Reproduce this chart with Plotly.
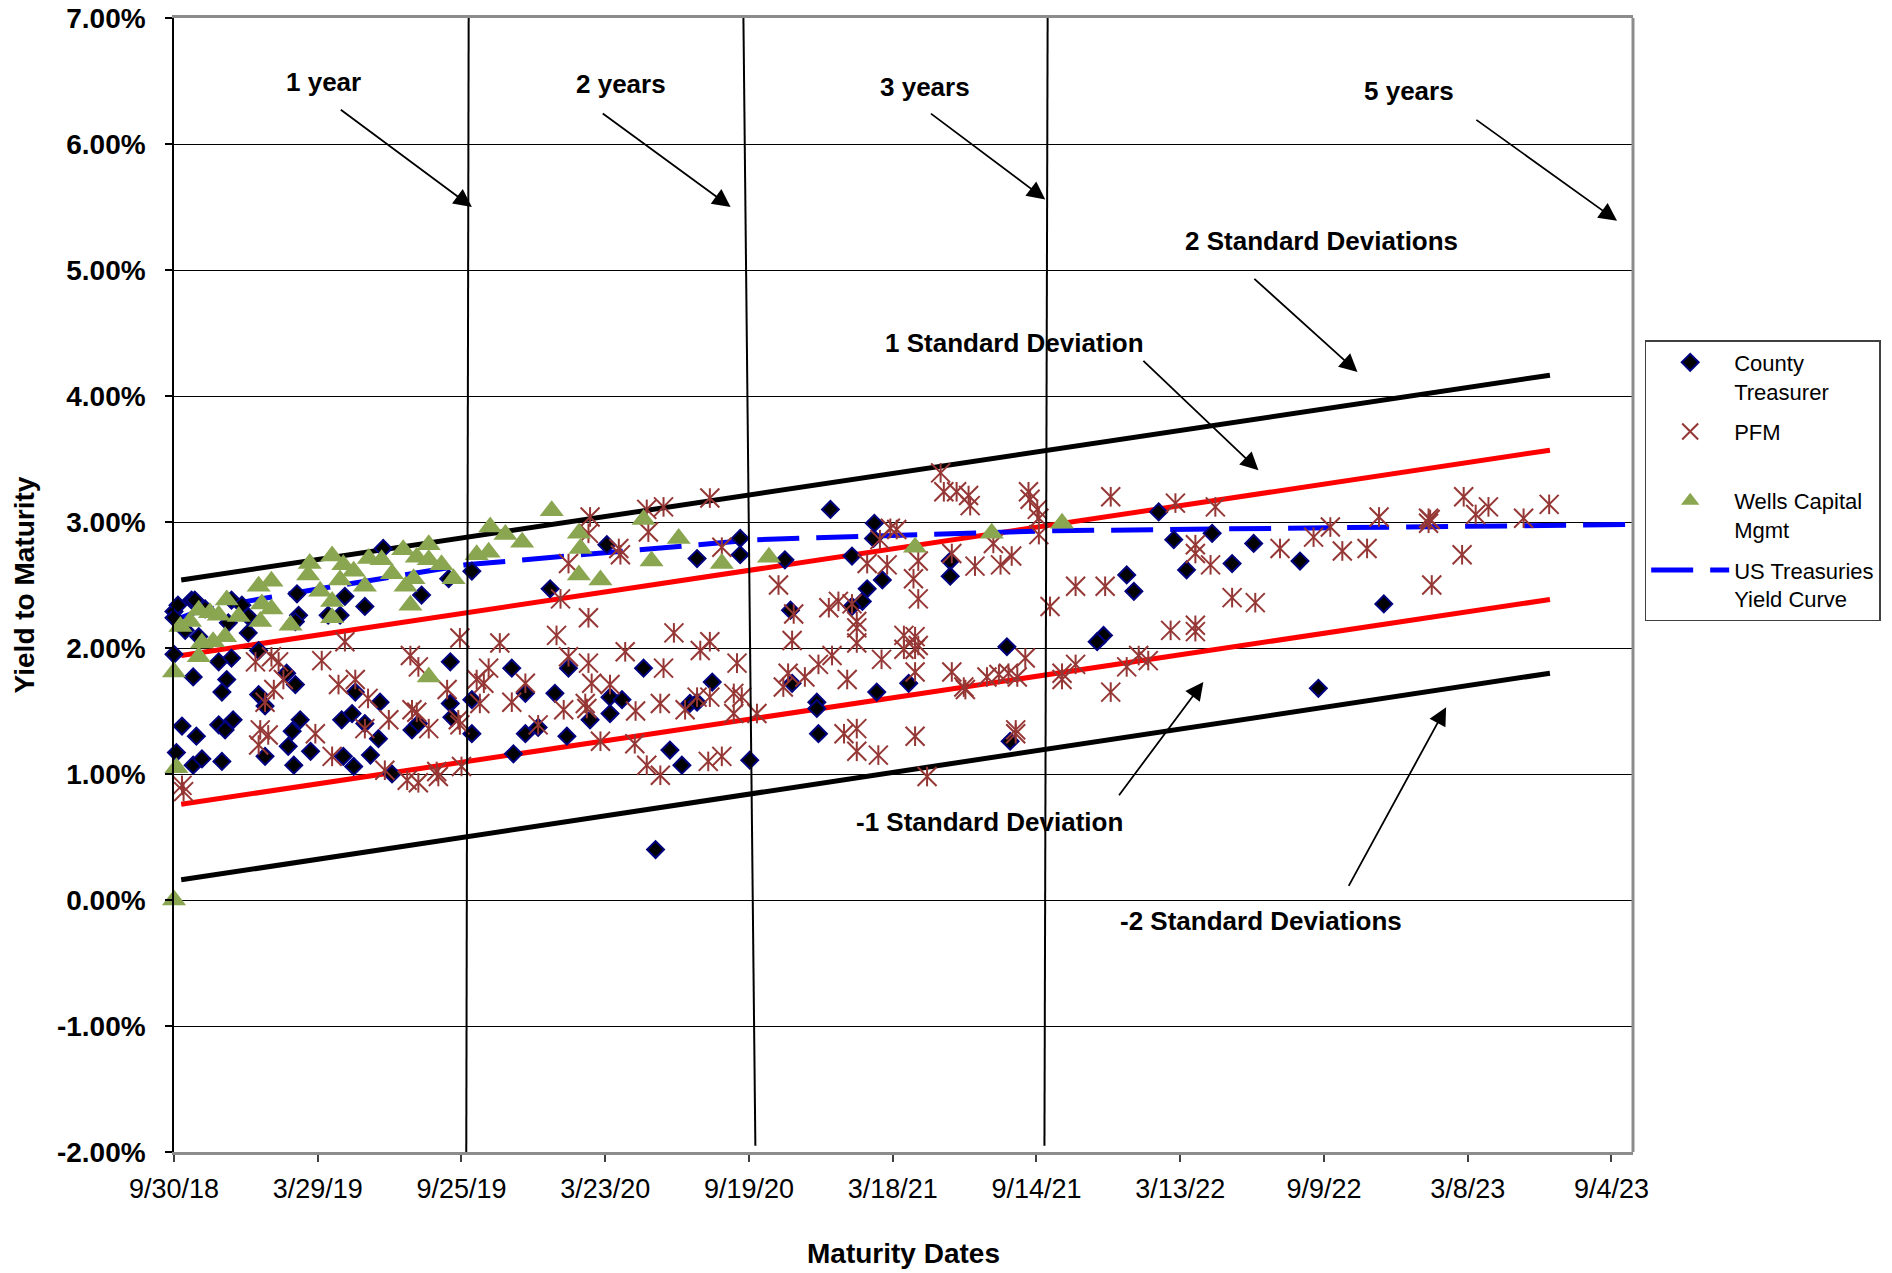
import pandas as pd
import plotly.graph_objects as go

# ---------------- data ----------------
report_date = "2018-09-30"

# days to maturity (from 9/30/18) and yield to maturity (%)
county_days = [0, 5, 22, 0, 14, 0, 24, 66, 60, 72, 56, 10, 28, 56, 64, 74, 3, 24, 35, 60,
               106, 114, 141, 152, 158, 148, 143, 114, 150, 171, 210, 223, 239, 256, 212, 225, 246, 258, 227, 273,
               298, 306, 346, 346, 348, 154, 156, 152, 214, 208, 239, 193, 262, 310, 344, 26, 39, 72, 85, 93,
               68, 31, 93, 106,
               373, 373, 373, 471, 542, 655, 709, 709, 765, 772, 423, 440, 477, 494, 440, 456, 425, 492, 521, 546,
               561, 546, 588, 621, 636, 646, 655, 674, 721, 603, 774,
               822, 877, 876, 849, 887, 868, 862, 849, 972, 972, 1043, 1164, 1156, 805, 805, 807, 880, 920, 1047,
               1233, 1252, 1300, 1352, 1325, 1410, 1268, 1193, 1202, 1433, 1515]
county_yield = [2.29, 2.34, 2.38, 2.24, 2.14, 1.95, 1.77, 1.75, 1.65, 1.92, 1.89, 1.38, 1.30, 1.39, 1.35, 1.43, 1.17, 1.07, 1.12, 1.10,
                1.63, 1.54, 1.80, 1.71, 1.43, 1.34, 1.22, 1.14, 1.07, 1.18, 1.43, 1.48, 1.40, 1.28, 1.14, 1.06, 1.15, 1.57, 1.65, 1.00,
                1.35, 1.40, 1.89, 1.56, 1.45, 2.43, 2.26, 2.21, 2.41, 2.26, 2.33, 2.26, 2.79, 2.42, 2.55, 2.38, 2.31, 2.38, 2.34, 2.25,
                2.20, 2.09, 2.12, 1.98,
                2.61, 1.59, 1.32, 2.47, 2.82, 2.71, 2.87, 2.74, 2.70, 2.30, 1.84, 1.64, 1.64, 1.84, 1.32, 1.37, 1.16, 1.30, 1.43, 1.61,
                1.59, 1.48, 1.84, 1.19, 1.07, 1.56, 1.57, 1.73, 1.11, 0.40, 1.72,
                3.10, 2.99, 2.87, 2.73, 2.54, 2.47, 2.37, 2.33, 2.69, 2.57, 2.01, 2.10, 2.05, 1.57, 1.52, 1.32, 1.65, 1.72, 1.26,
                3.08, 2.86, 2.91, 2.83, 2.67, 2.69, 2.62, 2.58, 2.45, 1.68, 2.35]

pfm_days = [10, 12, 102, 122, 131, 185, 214, 137, 125, 114, 108, 118, 106, 177, 198, 206, 227, 243, 269, 239,
            264, 292, 306, 329, 331, 360, 296, 306, 319, 342, 356, 358, 298, 304, 358,
            521, 519, 592, 594, 613, 671, 494, 557, 559, 686, 757, 484, 519, 479, 408, 626, 659, 671, 774, 776,
            565, 494, 519, 613, 705, 394, 379, 388, 440, 523, 546, 423, 383, 488, 515, 517, 578, 609, 640, 655,
            671, 701, 711, 701, 730, 763, 769, 456, 534, 577, 592, 609, 669, 686,
            960, 964, 980, 995, 997, 1070, 1072, 1081, 1083, 1083, 1173, 897, 905, 884, 868, 893, 932, 926, 932, 974,
            1003, 1035, 1049, 1026, 820, 832, 849, 855, 855, 1097, 1129, 1166, 855, 914, 928, 932, 914, 928, 824, 886,
            807, 790, 843, 928, 974, 989, 991, 1018, 1033, 1045, 1056, 1066, 1112, 1112, 1129, 1173, 839, 855, 855, 882,
            928, 1054, 1054, 943,
            1254, 1304, 1509, 1448, 1427, 1279, 1279, 1298, 1385, 1463, 1494, 1325, 1354, 1248, 1279, 1279, 1208, 1193, 1220,
            1571, 1573, 1571, 1615, 1630, 1646, 1690, 1722, 1613, 1575]
pfm_yield = [0.91, 0.86, 1.89, 1.93, 1.89, 1.90, 2.05, 1.75, 1.67, 1.57, 1.35, 1.31, 1.23, 1.32, 1.14, 1.71, 1.75, 1.60, 1.43, 1.36,
             1.03, 0.95, 0.93, 1.02, 0.98, 1.06, 1.94, 1.85, 1.36, 1.67, 1.43, 1.39, 1.51, 1.49, 2.08,
             3.04, 2.91, 3.10, 2.92, 3.12, 3.19, 2.67, 2.79, 2.74, 2.80, 2.50, 2.39, 2.24, 2.10, 2.04, 2.12, 1.98, 2.05, 2.06, 2.27,
             1.97, 1.93, 1.88, 1.84, 1.88, 1.84, 1.75, 1.72, 1.72, 1.72, 1.71, 1.57, 1.56, 1.51, 1.56, 1.52, 1.50, 1.56, 1.51, 1.61,
             1.61, 1.64, 1.61, 1.48, 1.48, 1.69, 1.80, 1.39, 1.26, 1.24, 1.07, 0.99, 1.10, 1.14,
             3.39, 3.24, 3.24, 3.21, 3.13, 3.24, 3.18, 3.10, 3.03, 2.90, 3.20, 2.95, 2.94, 2.86, 2.67, 2.66, 2.69, 2.55, 2.39, 2.75,
             2.65, 2.66, 2.73, 2.83, 2.32, 2.37, 2.35, 2.21, 2.16, 2.33, 2.49, 2.49, 2.04, 2.10, 2.09, 2.02, 1.99, 1.99, 1.94, 1.91,
             1.87, 1.77, 1.75, 1.81, 1.81, 1.69, 1.67, 1.77, 1.79, 1.80, 1.77, 1.92, 1.80, 1.75, 1.87, 1.65, 1.32, 1.36, 1.18, 1.15,
             1.30, 1.35, 1.32, 0.98,
             3.15, 3.12, 3.04, 2.96, 2.88, 2.82, 2.75, 2.66, 2.79, 2.77, 2.79, 2.40, 2.36, 2.14, 2.18, 2.13, 1.94, 1.85, 1.90,
             3.03, 3.02, 2.99, 3.20, 3.06, 3.12, 3.03, 3.14, 2.74, 2.50]

wells_days = [0, 0, 3, 8, 20, 31, 45, 56, 66, 81, 64, 49, 35, 31, 106, 122, 110, 122, 108, 146,
              170, 168, 183, 198, 198, 198, 212, 225, 208, 239, 244, 260, 273, 287, 304, 319, 319, 290, 300, 296,
              335, 350, 319, 396, 415, 436, 379, 394, 473, 507, 509, 507, 534, 588, 598, 632, 686, 745,
              928, 1024, 1112]
wells_yield = [0.00, 1.81, 1.05, 2.17, 2.21, 2.30, 2.28, 2.26, 2.38, 2.25, 2.09, 2.05, 2.04, 1.93, 2.49, 2.53, 2.35, 2.31, 2.21, 2.18,
               2.67, 2.58, 2.45, 2.37, 2.24, 2.73, 2.66, 2.61, 2.54, 2.49, 2.71, 2.70, 2.59, 2.78, 2.72, 2.82, 2.70, 2.49, 2.55, 2.34,
               2.66, 2.55, 1.77, 2.96, 2.90, 2.84, 2.74, 2.76, 3.09, 2.91, 2.79, 2.58, 2.54, 3.02, 2.69, 2.87, 2.67, 2.72,
               2.80, 2.91, 2.99]

treasury_days = [0, 30, 91, 182, 365, 730, 1095, 1827]
treasury_yield = [2.22, 2.29, 2.37, 2.47, 2.66, 2.86, 2.93, 2.98]

# standard deviation bands (start / end)
band_days = [9, 1723]
band_plus2 = [2.54, 4.165]
band_plus1 = [1.94, 3.57]
band_minus1 = [0.76, 2.385]
band_minus2 = [0.16, 1.80]

x_tick_labels = ["9/30/18", "3/29/19", "9/25/19", "3/23/20", "9/19/20", "3/18/21",
                 "9/14/21", "3/13/22", "9/9/22", "3/8/23", "9/4/23"]
y_tick_values = [-2, -1, 0, 1, 2, 3, 4, 5, 6, 7]
y_tick_labels = ["-2.00%", "-1.00%", "0.00%", "1.00%", "2.00%", "3.00%", "4.00%", "5.00%", "6.00%", "7.00%"]

# ---------------- helpers ----------------
base = pd.Timestamp(report_date)


def to_dates(days):
    return [base + pd.Timedelta(days=float(d)) for d in days]


FONT = "Liberation Sans, Arial, sans-serif"
PFM_COLOR = "#953735"

fig = go.Figure()

# SD bands
for vals, col in [(band_plus2, "black"), (band_plus1, "#FF0000"),
                  (band_minus1, "#FF0000"), (band_minus2, "black")]:
    fig.add_trace(go.Scatter(x=to_dates(band_days), y=vals, mode="lines",
                             line=dict(color=col, width=5), showlegend=False, hoverinfo="skip"))

# Treasury curve
fig.add_trace(go.Scatter(x=to_dates(treasury_days), y=treasury_yield, mode="lines",
                         name="US Treasuries<br>Yield Curve", legendgroup="ust", legendrank=4,
                         line=dict(color="#0000FF", width=5, dash="42px,17px")))

# County Treasurer
fig.add_trace(go.Scatter(x=to_dates(county_days), y=county_yield, mode="markers",
                         name="County<br>Treasurer", legendgroup="county", legendrank=1,
                         cliponaxis=False,
                         marker=dict(symbol="diamond", size=13, color="black",
                                     line=dict(color="#000080", width=2))))

# PFM (asterisk = x + vertical bar)
fig.add_trace(go.Scatter(x=to_dates(pfm_days), y=pfm_yield, mode="markers",
                         name="PFM<br>\u00a0", legendgroup="pfm", legendrank=2,
                         marker=dict(symbol="x-thin-open", size=19, color=PFM_COLOR,
                                     line=dict(color=PFM_COLOR, width=2))))
fig.add_trace(go.Scatter(x=to_dates(pfm_days), y=pfm_yield, mode="markers",
                         showlegend=False, legendgroup="pfm",
                         marker=dict(symbol="line-ns-open", size=14, color=PFM_COLOR,
                                     line=dict(color=PFM_COLOR, width=2))))

# Wells Capital Mgmt
fig.add_trace(go.Scatter(x=to_dates(wells_days), y=wells_yield, mode="markers",
                         name="Wells Capital<br>Mgmt", legendgroup="wells", legendrank=3,
                         cliponaxis=False,
                         marker=dict(symbol="triangle-up", size=21, color="#8BA651",
                                     line=dict(width=0))))

# year marker lines (slightly slanted, as drawn)
year_lines = [("2019-10-04", "2019-10-01", -2.0),
              ("2020-09-12", "2020-09-27", -1.95),
              ("2021-09-28", "2021-09-24", -1.95)]
for top, bottom, ybot in year_lines:
    fig.add_shape(type="line", xref="x", yref="y", x0=top, y0=7.02, x1=bottom, y1=ybot,
                  line=dict(color="black", width=2))

# right border of plot area
fig.add_shape(type="line", xref="paper", yref="paper", x0=1, y0=0, x1=1, y1=1,
              line=dict(color="#8C8C8C", width=3))

# annotations: labels
labels = [("1 year", 187, 6.49), ("2 years", 560, 6.48), ("3 years", 941, 6.45),
          ("5 years", 1547, 6.42), ("2 Standard Deviations", 1437, 5.23),
          ("1 Standard Deviation", 1053, 4.42), ("-1 Standard Deviation", 1021, 0.62),
          ("-2 Standard Deviations", 1361, -0.17)]
for txt, d, yv in labels:
    fig.add_annotation(x=base + pd.Timedelta(days=d), y=yv, text="<b>%s</b>" % txt,
                       showarrow=False, font=dict(family=FONT, size=26, color="black"))

# arrows: (tail_days, tail_y, head_days, head_y)
arrows = [(207, 6.28, 373, 5.50), (535, 6.25, 697, 5.50), (946, 6.25, 1091, 5.56),
          (1629, 6.20, 1807, 5.39), (1351, 4.94, 1482, 4.19), (1212, 4.29, 1358, 3.41),
          (1182, 0.82, 1289, 1.73), (1470, 0.10, 1593, 1.53)]
for td, ty, hd, hy in arrows:
    fig.add_annotation(x=base + pd.Timedelta(days=hd), y=hy,
                       ax=base + pd.Timedelta(days=td), ay=ty, axref="x", ayref="y",
                       text="", showarrow=True, arrowhead=2, arrowsize=2,
                       arrowwidth=1.8, arrowcolor="black", standoff=0)

tickvals_x = pd.to_datetime(x_tick_labels, format="%m/%d/%y")

fig.update_layout(
    width=1892, height=1273,
    margin=dict(l=174, r=259, t=18, b=121, autoexpand=False),
    paper_bgcolor="white", plot_bgcolor="white",
    font=dict(family=FONT, color="black"),
    legend=dict(x=1.008, y=0.716, xanchor="left", yanchor="top",
                bordercolor="#404040", borderwidth=1.5, bgcolor="white",
                font=dict(family=FONT, size=22, color="black"),
                itemwidth=78, valign="top", tracegroupgap=9,
                traceorder="grouped"),
    xaxis=dict(type="date", range=[base, base + pd.Timedelta(days=1827)],
               automargin=False,
               tickvals=tickvals_x, ticktext=x_tick_labels,
               tickfont=dict(family=FONT, size=27, color="black"),
               ticks="outside", ticklen=7, tickcolor="#404040", tickwidth=1.5,
               ticklabelstandoff=4,
               showgrid=False, zeroline=False,
               showline=True, linecolor="#8C8C8C", linewidth=3, mirror=True,
               title=dict(text="<b>Maturity Dates</b>", standoff=40,
                          font=dict(family=FONT, size=28, color="black"))),
    yaxis=dict(range=[-2, 7], tickvals=y_tick_values, ticktext=y_tick_labels,
               automargin=False,
               tickfont=dict(family=FONT, size=28, color="black", weight="bold"),
               ticks="outside", ticklen=7, tickcolor="black", tickwidth=1.5,
               ticklabelstandoff=14,
               showgrid=True, gridcolor="black", gridwidth=1, zeroline=False,
               showline=True, linecolor="black", linewidth=1.5,
               title=dict(text="<b>Yield to Maturity</b>", standoff=14,
                          font=dict(family=FONT, size=28, color="black"))),
)

fig.write_html("out.html", config={"displayModeBar": False},
               post_script="document.body.style.margin='0';document.body.style.overflow='hidden';")
